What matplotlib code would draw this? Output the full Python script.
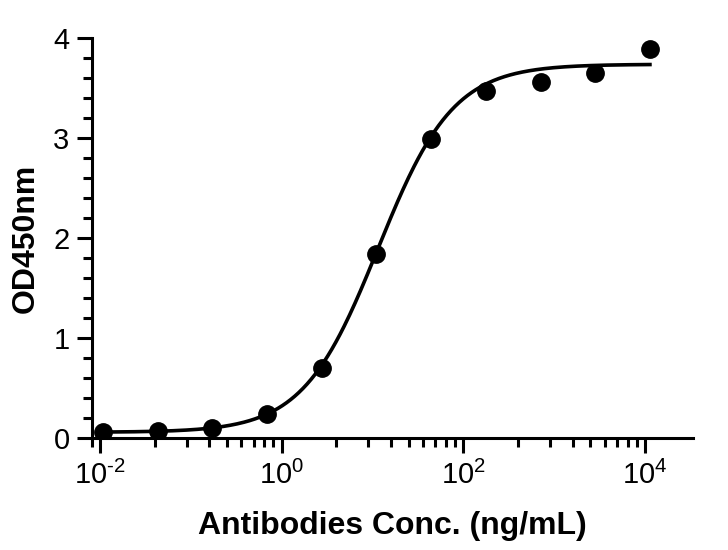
import matplotlib
matplotlib.use("Agg")
import matplotlib.pyplot as plt
import numpy as np
from matplotlib.ticker import FixedLocator, FixedFormatter, MultipleLocator

plt.rcParams["font.family"] = ["Liberation Sans", "DejaVu Sans"]
plt.rcParams["mathtext.fontset"] = "custom"
plt.rcParams["mathtext.rm"] = "Liberation Sans"
plt.rcParams["mathtext.default"] = "rm"

# measured points (4-fold dilution series)
conc = [0.0107, 0.043, 0.172, 0.69, 2.75, 11.0, 44.0, 176.0, 705.0, 2820.0, 11280.0]
od450 = [0.066, 0.073, 0.106, 0.24, 0.70, 1.84, 2.99, 3.47, 3.56, 3.65, 3.89]

# 4PL fit parameters
bottom = 0.06
top = 3.74
ec50 = 11.5
hill = 1.05

xticks = [1e-2, 1e0, 1e2, 1e4]
xticklabels = ["$10^{\u20102}$", "$10^{0}$", "$10^{2}$", "$10^{4}$"]

fig = plt.figure(figsize=(7.28, 5.5), dpi=100)
ax = fig.add_axes([0.126, 0.2031, 0.826, 0.7273])

xs = np.logspace(np.log10(conc[0]), np.log10(conc[-1]), 400)
fit = bottom + (top - bottom) / (1 + (ec50 / xs) ** hill)
ax.plot(xs, fit, color="black", lw=2.6, zorder=2)
ax.plot(conc, od450, "o", color="black", ms=12.5, zorder=3)

ax.set_xscale("log")
ax.set_xlim(0.0081, 33650)
ax.set_ylim(0, 4)

# prism-style minor ticks: k^2 steps inside each two-decade span
minor = [k * k * 10.0 ** e for e in range(-4, 5, 2) for k in range(2, 10)]
ax.xaxis.set_major_locator(FixedLocator(xticks))
ax.xaxis.set_major_formatter(FixedFormatter(xticklabels))
ax.xaxis.set_minor_locator(FixedLocator(minor))
ax.xaxis.set_minor_formatter(FixedFormatter([""] * len(minor)))
ax.yaxis.set_major_locator(MultipleLocator(1))
ax.yaxis.set_minor_locator(MultipleLocator(0.2))

for side in ["top", "right"]:
    ax.spines[side].set_visible(False)
for side in ["left", "bottom"]:
    ax.spines[side].set_linewidth(2.2)
    ax.spines[side].set_capstyle("projecting")

ax.tick_params(axis="both", which="major", width=2.2, length=11, color="black")
ax.tick_params(axis="both", which="minor", width=2.2, length=6.5, color="black")
ax.tick_params(axis="x", which="major", labelsize=21, pad=5)
ax.tick_params(axis="y", which="major", labelsize=21, pad=5)

ax.set_xlabel("Antibodies Conc. (ng/mL)", fontsize=23, fontweight="bold", labelpad=15)
ax.set_ylabel("OD450nm", fontsize=23, fontweight="bold", labelpad=9)

fig.savefig("out.png", dpi=100)
